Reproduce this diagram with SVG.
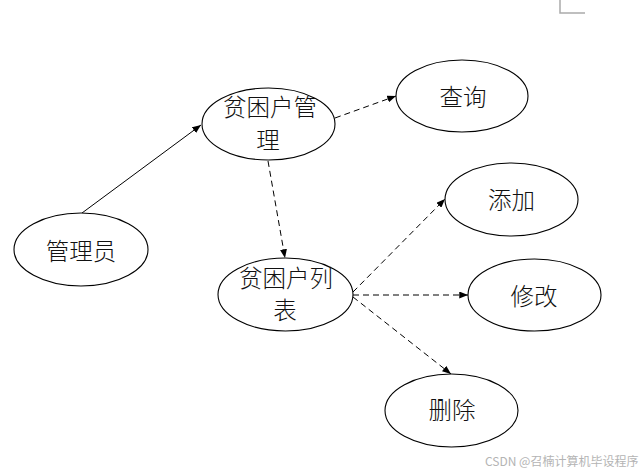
<svg xmlns="http://www.w3.org/2000/svg" width="642" height="471" viewBox="0 0 642 471">
<style>
.node ellipse{fill:#fff;stroke:#000;stroke-width:1.1}
.node text{font-family:"Noto Sans CJK SC","Noto Sans",sans-serif;font-size:23.5px;font-weight:300;fill:#111;text-anchor:middle;dominant-baseline:central}
.edge{fill:none;stroke:#000;stroke-width:1}
.dash{stroke-dasharray:6 4}
.mark{stroke:#aaa;stroke-width:1.5;fill:none}
.wm{font-family:"Noto Sans CJK SC","Noto Sans",sans-serif;font-size:12px;fill:#b4b4b4}
</style>
<defs>
<marker id="arr" viewBox="0 0 10 8" refX="10" refY="4" markerWidth="9" markerHeight="7" markerUnits="userSpaceOnUse" orient="auto">
<path d="M0,0 L10,4 L0,8 Z" fill="#000"/>
</marker>
</defs>
<rect width="642" height="471" fill="#fff"/>
<path class="mark" d="M560,0 V13 H585"/>
<g id="connectors">
<line class="edge" x1="82" y1="213" x2="201" y2="125" marker-end="url(#arr)"/>
<line class="edge dash" x1="335" y1="118" x2="396" y2="96" marker-end="url(#arr)"/>
<line class="edge dash" x1="268" y1="161" x2="285" y2="258" marker-end="url(#arr)"/>
<line class="edge dash" x1="353" y1="292" x2="445" y2="199" marker-end="url(#arr)"/>
<line class="edge dash" x1="353" y1="295" x2="468" y2="295" marker-end="url(#arr)"/>
<line class="edge dash" x1="353" y1="297" x2="451" y2="374" marker-end="url(#arr)"/>
</g>
<g id="n-admin" class="node"><ellipse cx="81" cy="249.5" rx="67" ry="36.5"/><text x="81" y="249.5">管理员</text></g>
<g id="n-poor-mgmt" class="node"><ellipse cx="268.5" cy="124" rx="66.5" ry="36"/><text x="270" y="106">贫困户管</text><text x="268" y="139">理</text></g>
<g id="n-query" class="node"><ellipse cx="462" cy="96" rx="66" ry="36"/><text x="463" y="96">查询</text></g>
<g id="n-poor-list" class="node"><ellipse cx="285.5" cy="294.5" rx="67.5" ry="36.5"/><text x="286" y="276.5">贫困户列</text><text x="285" y="309">表</text></g>
<g id="n-add" class="node"><ellipse cx="511.5" cy="199.5" rx="66.5" ry="36.5"/><text x="511.5" y="199">添加</text></g>
<g id="n-edit" class="node"><ellipse cx="534.5" cy="295" rx="66.5" ry="36"/><text x="534" y="295">修改</text></g>
<g id="n-del" class="node"><ellipse cx="451.5" cy="410.5" rx="66.5" ry="36.5"/><text x="452" y="409">删除</text></g>
<text class="wm" x="485" y="466">CSDN @召楠计算机毕设程序</text>
</svg>
